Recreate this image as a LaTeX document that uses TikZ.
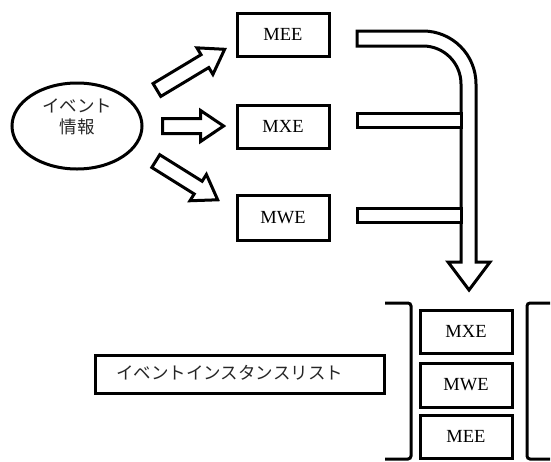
\documentclass[tikz,border=0pt]{standalone}
\usepackage{fontspec}
\setmainfont{Liberation Serif}
\newfontfamily\jp{Noto Sans CJK JP}
\usetikzlibrary{shapes.geometric,shapes.arrows}

\tikzset{
  stroke/.style={draw=black, line width=3pt},
  mbox/.style={stroke, fill=white, minimum width=92pt, minimum height=43pt,
    inner sep=0pt, font=\fontsize{18.5}{20}\selectfont},
  blockarrow/.style={stroke, single arrow, fill=white, inner sep=0pt,
    minimum width=30pt, single arrow head extend=8pt,
    single arrow tip angle=68, text width=0pt, text height=12pt},
  jptext/.style={font=\jp\fontsize{17.5}{21}\selectfont, text=black!85},
}

\begin{document}
\begin{tikzpicture}[x=1pt, y=-1pt]
  \useasboundingbox (0,0) rectangle (551,461);

  % source of the event information
  \node[stroke, ellipse, minimum width=130pt, minimum height=86pt, inner sep=0pt]
    (info) at (77,126) {};
  \node[jptext, align=center, inner sep=0pt] (infolabel) at (77,116.5)
    {イベント\\情報};

  % the three event kinds
  \node[mbox] (mee) at (283,34.5) {MEE};
  \node[mbox] (mxe) at (283,126.5) {MXE};
  \node[mbox, minimum height=45pt] (mwe) at (283,217.5) {MWE};

  % fan-out arrows from the information to each kind
  \node[blockarrow, minimum height=79pt, rotate=31] (a1) at (186,72.5) {};
  \node[blockarrow, minimum height=61pt] (a2) at (187.5,126) {};
  \node[blockarrow, minimum height=73pt, rotate=-32] (a3) at (182,177.5) {};

  % collecting arrow that runs down to the list (quarter circles as Beziers)
  \draw[stroke, fill=white, line join=miter]
    (357,31) -- (423,31)
      .. controls (452.3,31) and (476,54.7) .. (476,84)
    -- (476,262) -- (490,262) -- (469,290) -- (448,262) -- (461,262)
    -- (461,84)
      .. controls (461,63) and (444,46) .. (423,46)
    -- (357,46) -- cycle;
  \draw[stroke, fill=white] (357,113) rectangle (461,127);
  \draw[stroke, fill=white] (357,208) rectangle (461,222);

  % the resulting list
  \node[stroke, minimum width=289pt, minimum height=38pt, inner sep=0pt]
    (list) at (239.5,374) {};
  \node[jptext, anchor=west, inner sep=0pt] (listlabel) at (116,373)
    {イベントインスタンスリスト};

  \draw[stroke, rounded corners=3pt] (385,303) -- (411,303) -- (411,459) -- (385,459);
  \draw[stroke, rounded corners=3pt] (550,303) -- (527,303) -- (527,459) -- (550,459);

  \node[mbox] (lmxe) at (466,331.5) {MXE};
  \node[mbox, minimum height=44pt] (lmwe) at (466,385) {MWE};
  \node[mbox] (lmee) at (466,436.5) {MEE};
\end{tikzpicture}
\end{document}
